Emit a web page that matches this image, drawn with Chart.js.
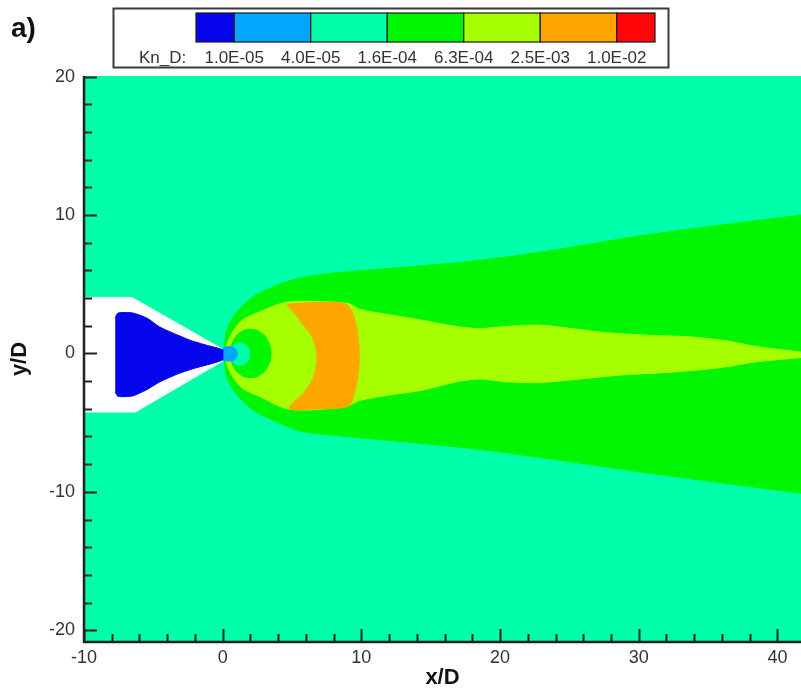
<!DOCTYPE html>
<html>
<head>
<meta charset="utf-8">
<script src="https://cdn.jsdelivr.net/npm/chart.js@4/dist/chart.umd.min.js"></script>
<style>
  html, body { margin: 0; padding: 0; background: #ffffff; }
  canvas { display: block; }
</style>
</head>
<body>
<canvas id="kn" width="801" height="691"></canvas>
<script>
// ---- contour levels of the local Knudsen number ----
const levelName = 'Kn_D:';
const levelLabels = ['1.0E-05', '4.0E-05', '1.6E-04', '6.3E-04', '2.5E-03', '1.0E-02'];

// ---- axes (x/D, y/D) ----
const xRange = [-10, 41.7];
const yRange = [-20.85, 20.05];
const xTickLabels = [-10, 0, 10, 20, 30, 40];
const yTickLabels = [-20, -10, 0, 10, 20];
const minorStep = 2;

// ---- contour band outlines, in (x/D, y/D) ----
// 1.6E-04 .. 6.3E-04 : outer plume envelope
const plumeOuter = [
  [0.1, 0.25], [0.3, 1.7], [0.8, 2.7], [1.4, 3.4], [2.2, 4.1], [3.15, 4.6], [4.35, 5.1],
  [5.55, 5.45], [7.9, 5.8], [12.7, 6.2], [17.8, 6.65], [22.8, 7.3], [30.8, 8.6], [41.7, 10.0],
  [44.5, 10.35], [44.5, -10.45],
  [41.7, -10.1], [30.8, -8.65], [22.8, -7.5], [17.8, -6.85], [12.7, -6.35], [7.9, -5.9],
  [5.55, -5.6], [4.35, -5.15], [3.15, -4.6], [2.2, -4.1], [1.4, -3.4], [0.8, -2.7], [0.3, -1.75], [0.1, -0.35]
];
// 6.3E-04 .. 2.5E-03 : plume core
const plumeCore = [
  [0.18, 0.3], [0.6, 1.35], [1.4, 2.4], [2.65, 3.0], [4.55, 3.7], [6.95, 3.75], [9.1, 3.6],
  [9.85, 3.2], [12.0, 2.8], [14.4, 2.4], [16.85, 1.95], [18.5, 1.8], [20.45, 1.95],
  [22.8, 2.05], [24.75, 1.85], [27.7, 1.5], [30.05, 1.35], [33.6, 1.2], [36.05, 0.95],
  [38.5, 0.5], [41.7, 0.1], [43.5, -0.05],
  [43.5, -0.15], [41.7, -0.3], [38.5, -0.6], [36.05, -1.0], [32.4, -1.35], [28.8, -1.55], [25.25, -1.9],
  [22.8, -2.1], [20.45, -2.05], [18.5, -1.85], [16.85, -2.05], [14.4, -2.65], [12.0, -3.0],
  [9.85, -3.4], [9.1, -3.75], [6.95, -4.05], [4.65, -4.0], [2.65, -3.1], [1.4, -2.5],
  [0.6, -1.45], [0.18, -0.4]
];
// 2.5E-03 .. 1.0E-02 : crescent behind the Mach disk
const crescent = [
  [4.6, 3.55], [6.95, 3.7], [8.8, 3.6], [9.35, 3.0], [9.7, 1.7], [9.85, -0.25], [9.7, -1.9],
  [9.35, -3.35], [9.0, -3.85], [6.95, -4.0], [4.8, -3.95], [5.85, -2.85], [6.55, -1.7],
  [6.8, -0.25], [6.45, 1.2], [5.5, 2.45]
];
// 1.6E-04 .. 6.3E-04 : bubble just past the exit
const exitBubble = [
  [0.55, 0], [0.74, 0.88], [1.28, 1.52], [2.0, 1.75], [2.73, 1.52], [3.28, 0.88], [3.48, 0],
  [3.28, -0.88], [2.73, -1.52], [2.0, -1.75], [1.28, -1.52], [0.74, -0.88], [0.55, 0]
];
// 4.0E-05 .. 1.6E-04 : inner bubble
const innerBubble = [
  [0.55, -0.05], [0.64, 0.35], [0.9, 0.64], [1.25, 0.75], [1.6, 0.64], [1.86, 0.35], [1.95, -0.05],
  [1.86, -0.45], [1.6, -0.74], [1.25, -0.85], [0.9, -0.74], [0.64, -0.45], [0.55, -0.05]
];
// 1.0E-05 .. 4.0E-05 : exit plane
const exitJet = [
  [0.05, 0.4], [0.5, 0.5], [0.9, 0.35], [1.05, -0.05], [0.9, -0.45], [0.5, -0.55], [0.05, -0.5]
];
// below 1.0E-05 : nozzle interior
const nozzleFlow = [
  [-7.75, 2.6], [-7.55, 2.92], [-6.5, 2.93], [-5.45, 2.55], [-4.55, 1.92], [-3.3, 1.35],
  [-2.2, 0.9], [-1.0, 0.55], [0.0, 0.28], [0.35, 0.1], [0.35, -0.3], [0.0, -0.47],
  [-0.5, -0.65], [-2.2, -1.12], [-3.3, -1.5], [-4.55, -2.06], [-5.45, -2.6], [-6.5, -3.07],
  [-7.55, -3.1], [-7.75, -2.8]
];
// nozzle body (no data)
const nozzleWall = [
  [-10.5, 4.05], [-6.55, 4.05], [0.0, 0.3], [0.0, -0.55], [-6.3, -4.23], [-10.5, -4.23]
];

// ---- styles ----
const levelColors = ['#0505ee', '#00a6ff', '#00ffaa', '#00f500', '#a6ff00', '#ffa600', '#ff0505'];
const bandBackground = levelColors[2];
const wallColor = '#ffffff';
const textColor = '#333333';
const axisColor = '#222222';
const fontFamily = '"Liberation Sans", Arial, Helvetica, sans-serif';

function band(points, color, order, tension) {
  return {
    data: points.map(p => ({ x: p[0], y: p[1] })),
    showLine: true,
    fill: 'shape',
    backgroundColor: color,
    borderColor: color,
    borderWidth: 1,
    pointRadius: 0,
    pointHoverRadius: 0,
    tension: tension,
    order: order
  };
}

const datasets = [
  band(plumeOuter, levelColors[3], 10, 0.3),
  band(plumeCore, levelColors[4], 9, 0.3),
  band(crescent, levelColors[5], 8, 0.3),
  band(exitBubble, levelColors[3], 7, 0.45),
  band(innerBubble, levelColors[2], 6, 0.45),
  band(nozzleWall, wallColor, 5, 0),
  band(nozzleFlow, levelColors[0], 4, 0.2),
  band(exitJet, levelColors[1], 3, 0.4)
];

function onStep(v, step) {
  return Math.abs(v / step - Math.round(v / step)) < 1e-6;
}

// paints the lowest band over the whole plot area
const fieldBackground = {
  id: 'fieldBackground',
  beforeDraw(chart) {
    const { ctx, chartArea: a } = chart;
    ctx.save();
    ctx.fillStyle = '#ffffff';
    ctx.fillRect(0, 0, chart.width, chart.height);
    ctx.fillStyle = bandBackground;
    ctx.fillRect(a.left, a.top, a.right - a.left, a.bottom - a.top);
    ctx.restore();
  }
};

// axis lines with inward major/minor tick marks
const frameTicks = {
  id: 'frameTicks',
  afterDatasetsDraw(chart) {
    const { ctx, chartArea: a, scales } = chart;
    ctx.save();
    ctx.strokeStyle = axisColor;
    ctx.lineWidth = 2;
    ctx.beginPath();
    scales.x.ticks.forEach(t => {
      if (!onStep(t.value, minorStep)) return;
      const px = Math.round(scales.x.getPixelForValue(t.value)) + 0.5;
      const len = onStep(t.value, 10) ? 13 : 8;
      ctx.moveTo(px, a.bottom);
      ctx.lineTo(px, a.bottom - len);
    });
    scales.y.ticks.forEach(t => {
      if (!onStep(t.value, minorStep)) return;
      const py = Math.round(scales.y.getPixelForValue(t.value)) + 0.5;
      const len = onStep(t.value, 10) ? 13 : 8;
      ctx.moveTo(a.left, py);
      ctx.lineTo(a.left + len, py);
    });
    ctx.stroke();
    ctx.lineWidth = 2.5;
    ctx.beginPath();
    ctx.moveTo(a.left, a.top);
    ctx.lineTo(a.left, a.bottom);
    ctx.lineTo(a.right, a.bottom);
    ctx.stroke();
    ctx.restore();
  }
};

// panel tag and contour level legend
const levelLegend = {
  id: 'levelLegend',
  afterDraw(chart) {
    const ctx = chart.ctx;
    ctx.save();
    ctx.fillStyle = '#111111';
    ctx.font = 'bold 28px ' + fontFamily;
    ctx.textBaseline = 'alphabetic';
    ctx.textAlign = 'left';
    ctx.fillText('a)', 11, 37);

    const box = { x: 113, y: 8, w: 555, h: 59 };
    ctx.fillStyle = '#ffffff';
    ctx.fillRect(box.x, box.y, box.w, box.h);
    ctx.strokeStyle = '#3a3a3a';
    ctx.lineWidth = 2;
    ctx.strokeRect(box.x + 0.5, box.y + 0.5, box.w, box.h);

    const barLeft = 196, barTop = 13, barH = 29;
    const cell = 76.5;
    let x = barLeft;
    levelColors.forEach((c, i) => {
      const w = (i === 0 || i === levelColors.length - 1) ? cell / 2 : cell;
      ctx.fillStyle = c;
      ctx.fillRect(x, barTop, w, barH);
      ctx.strokeStyle = '#1a1a1a';
      ctx.lineWidth = 1.2;
      ctx.strokeRect(x, barTop, w, barH);
      x += w;
    });

    ctx.fillStyle = textColor;
    ctx.font = '17px ' + fontFamily;
    ctx.textAlign = 'left';
    ctx.fillText(levelName, 139, 63);
    ctx.textAlign = 'center';
    levelLabels.forEach((s, i) => {
      ctx.fillText(s, barLeft + cell / 2 + cell * i, 63);
    });
    ctx.restore();
  }
};

new Chart(document.getElementById('kn'), {
  type: 'scatter',
  data: { datasets },
  plugins: [fieldBackground, frameTicks, levelLegend],
  options: {
    responsive: false,
    animation: false,
    devicePixelRatio: 1,
    layout: { padding: { top: 76, right: 0, left: 0, bottom: 0 } },
    plugins: {
      legend: { display: false },
      tooltip: { enabled: false },
      filler: { propagate: false }
    },
    events: [],
    scales: {
      x: {
        type: 'linear',
        min: xRange[0],
        max: xRange[1],
        afterFit(s) { s.height = 49; },
        grid: { display: false, drawTicks: false },
        border: { display: false },
        ticks: {
          stepSize: minorStep,
          includeBounds: false,
          autoSkip: false,
          maxRotation: 0,
          padding: 5,
          color: textColor,
          font: { family: fontFamily, size: 18 },
          callback: v => (xTickLabels.includes(Math.round(v)) && onStep(v, 10)) ? String(Math.round(v)) : ''
        },
        title: {
          display: true,
          text: 'x/D',
          color: '#111111',
          font: { family: fontFamily, size: 22, weight: 'bold' },
          padding: { top: 0, bottom: 0 }
        }
      },
      y: {
        type: 'linear',
        min: yRange[0],
        max: yRange[1],
        afterFit(s) { s.width = 84; },
        grid: { display: false, drawTicks: false },
        border: { display: false },
        ticks: {
          stepSize: minorStep,
          includeBounds: false,
          autoSkip: false,
          padding: 9,
          color: textColor,
          font: { family: fontFamily, size: 18 },
          callback: v => (yTickLabels.includes(Math.round(v)) && onStep(v, 10)) ? String(Math.round(v)) : ''
        },
        title: {
          display: true,
          text: 'y/D',
          color: '#111111',
          font: { family: fontFamily, size: 22, weight: 'bold' },
          padding: { top: 7, bottom: 0 }
        }
      }
    }
  }
});
</script>
</body>
</html>
